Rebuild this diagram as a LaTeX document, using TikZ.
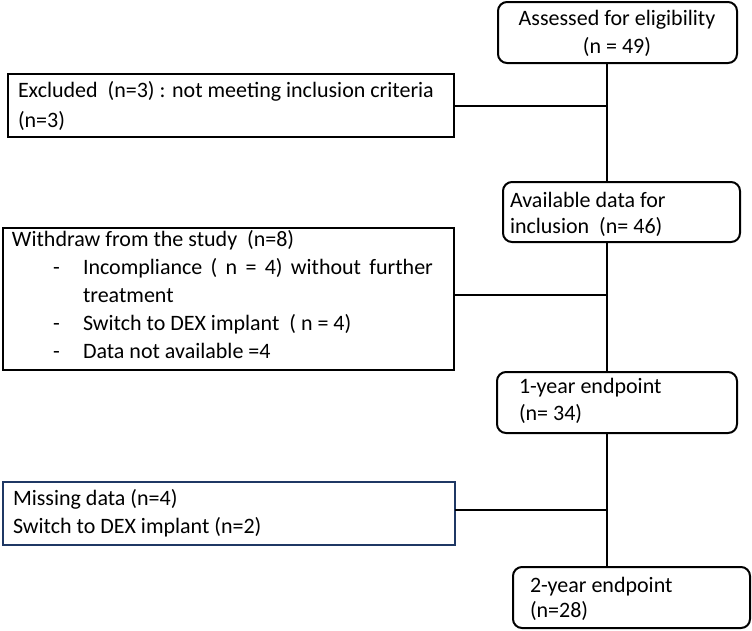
\documentclass[tikz,border=0pt]{standalone}
\usepackage{fontspec}
\setmainfont{Carlito}
\definecolor{navy}{RGB}{31,56,100}
\begin{document}
\begin{tikzpicture}[x=1pt,y=-1pt,
  box/.style={draw=black, line width=2pt, inner sep=0pt, outer sep=0pt, rectangle},
  rbox/.style={box, rounded corners=9pt},
  txt/.style={inner sep=0pt, outer sep=0pt, anchor=base west, font=\fontsize{22}{26}\selectfont},
  ctxt/.style={txt, anchor=base},
  link/.style={draw=black, line width=2pt}]
\useasboundingbox (0,0) rectangle (752,630);
% boxes
\node[rbox, minimum width=239pt, minimum height=61pt] (assess) at (617.5,32.5) {};
\node[box, minimum width=446pt, minimum height=63pt] (excl) at (231,105.5) {};
\node[rbox, minimum width=237pt, minimum height=60pt] (avail) at (621.5,212) {};
\node[box, minimum width=451pt, minimum height=142pt] (withd) at (228.5,299) {};
\node[rbox, minimum width=240pt, minimum height=61pt] (one) at (617,402.5) {};
\node[box, draw=navy, minimum width=452pt, minimum height=63pt] (miss) at (229,513.5) {};
\node[rbox, minimum width=237pt, minimum height=61pt] (two) at (631.5,597.5) {};
% texts
\node[ctxt] (t1) at (617,25) {Assessed for eligibility};
\node[ctxt] (t2) at (617,53) {(n = 49)};
\node[txt] (t3) at (18,97) {Excluded\ \ (n=3) : not meeting inclusion criteria};
\node[txt] (t4) at (18,127) {(n=3)};
\node[txt] (t5) at (510,207) {Available data for};
\node[txt] (t6) at (510,233) {inclusion\ \ (n= 46)};
\node[txt] (t7) at (12,246) {Withdraw from the study\ \ (n=8)};
\node[txt] (d1) at (53,274) {-};
\node[txt] (t8) at (83,274) {\makebox[350pt][s]{Incompliance ( n = 4) without further}};
\node[txt] (t9) at (83,302) {treatment};
\node[txt] (d2) at (53,330) {-};
\node[txt] (t10) at (83,330) {Switch to DEX implant\ \ ( n = 4)};
\node[txt] (d3) at (53,358) {-};
\node[txt] (t11) at (83,358) {Data not available =4};
\node[txt] (t12) at (519,393) {1-year endpoint};
\node[txt] (t13) at (519,420) {(n= 34)};
\node[txt] (t14) at (13,505) {Missing data (n=4)};
\node[txt] (t15) at (13,533) {Switch to DEX implant (n=2)};
\node[txt] (t16) at (530,592) {2-year endpoint};
\node[txt] (t17) at (530,617) {(n=28)};
% spine
\coordinate (sp) at (607,0);
\draw[link] (assess.south -| sp) -- (avail.north -| sp);
\draw[link] (avail.south -| sp) -- (one.north -| sp);
\draw[link] (one.south -| sp) -- (two.north -| sp);
\draw[link] (excl.east) -- (excl.east -| sp);
\draw[link] (withd.east) ++(0,-4) coordinate (we) -- (we -| sp);
\draw[link] (miss.east) ++(0,-4) coordinate (me) -- (me -| sp);
\end{tikzpicture}
\end{document}
